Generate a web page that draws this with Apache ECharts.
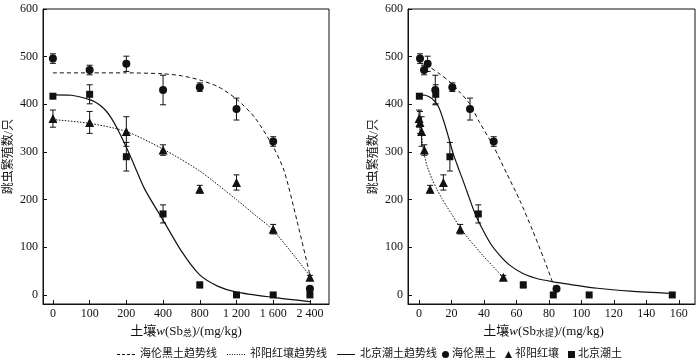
<!DOCTYPE html>
<html>
<head>
<meta charset="utf-8">
<script src="https://cdn.jsdelivr.net/npm/echarts@6/dist/echarts.min.js"></script>
<style>html,body{margin:0;padding:0;background:#fff}#c{width:700px;height:362px}</style>
</head>
<body>
<div id="c"></div>
<script>
// ---------- data ----------
const leftTickIdx = [0, 1, 2, 3, 4, 5, 6, 7];
const leftTickLabels = ['0', '100', '200', '400', '800', '1 200', '1 600', '2 400'];
const rightTicks = [0, 20, 40, 60, 80, 100, 120, 140, 160];
const yTicks = [0, 100, 200, 300, 400, 500, 600];

const heilunY = [496, 472, 485, 430, 436, 390, 322, 13];
const heilunErr = [10, 10, 16, 31, 9, 23, 10, 0];
const qiyangY = [370, 362, 343, 304, 222, 236, 138, 37];
const qiyangErr = [18, 23, 31, 11, 8, 16, 10, 4];
const beijingY = [417, 421, 290, 170, 21, 0, 0, 0];
const beijingErr = [0, 20, 30, 19, 6, 0, 0, 0];

// water-extractable Sb (right chart x)
const heilunWX = [0.6, 3.1, 5.3, 10, 20.5, 31.4, 46, 84.7];
const qiyangWX = [0, 0.6, 1.6, 3.3, 6.8, 15, 25.4, 51.9];
const beijingWX = [0.2, 10.3, 19, 36.5, 64.2, 82.7, 104.8, 156];

// trend lines, left chart (x = tick index)
const heilunTrendLX = [0, 1, 2, 3, 3.5, 4, 4.5, 5, 5.5, 6, 6.3, 6.65, 7];
const heilunTrendLY = [466, 466, 466, 464, 460, 451, 437, 411, 372, 311, 260, 155, 42];
const qiyangTrendLX = [0, 1, 2, 3, 4, 5, 5.55, 6, 7];
const qiyangTrendLY = [368, 360, 343, 306, 260, 200, 165, 136, 40];
const beijingTrendLX = [0, 0.5, 1, 1.15, 1.3, 1.45, 1.6, 1.8, 2, 2.2, 2.5, 3, 3.5, 4, 4.5, 5, 6, 7];
const beijingTrendLY = [420, 419, 410, 405, 397, 386, 370, 342, 310, 275, 222, 157, 92, 42, 18, 6, -5, -14];

// trend lines, right chart
const heilunTrendRX = [0, 7, 13, 19, 25, 31, 37, 46, 54, 62, 70, 77, 83];
const heilunTrendRY = [488, 477, 463, 447, 426, 402, 364, 311, 255, 199, 135, 75, 20];
const qiyangTrendRX = [0, 1, 2, 3, 5, 8, 11, 14, 17, 20, 25, 30, 35, 40, 45, 52];
const qiyangTrendRY = [372, 348, 322, 298, 270, 243, 222, 203, 186, 170, 143, 120, 100, 80, 62, 36];
const beijingTrendRX = [0, 4, 8, 12, 15, 18, 21, 24, 27, 31, 34, 38, 44, 50, 56, 64, 72, 82, 93, 110, 130, 156];
const beijingTrendRY = [420, 419, 412, 395, 367, 333, 297, 268, 241, 203, 175, 145, 108, 82, 62, 45, 35, 28, 22, 14, 8, 3];

const nameHL = '海伦黑土趋势线', nameQY = '祁阳红壤趋势线', nameBJ = '北京潮土趋势线';
const nameHLp = '海伦黑土', nameQYp = '祁阳红壤', nameBJp = '北京潮土';

// ---------- helpers ----------
const FONT = '"Liberation Serif", "Noto Sans CJK SC", serif';
const INK = '#111';
const zip = (xs, ys) => xs.map((x, i) => [x, ys[i]]);
const zip3 = (xs, ys, es) => xs.map((x, i) => [x, ys[i], es[i]]);

function errRender(params, api) {
  const x = api.value(0), y = api.value(1), e = api.value(2);
  if (!e) return null;
  const t = api.coord([x, y + e]), b = api.coord([x, y - e]);
  const w = 3;
  const st = { stroke: INK, lineWidth: 1 };
  return {
    type: 'group', children: [
      { type: 'line', shape: { x1: t[0], y1: t[1], x2: b[0], y2: b[1] }, style: st },
      { type: 'line', shape: { x1: t[0] - w, y1: t[1], x2: t[0] + w, y2: t[1] }, style: st },
      { type: 'line', shape: { x1: b[0] - w, y1: b[1], x2: b[0] + w, y2: b[1] }, style: st }
    ]
  };
}

function yAxisCfg(gi) {
  return {
    type: 'value', gridIndex: gi, min: -19, max: 600,
    name: '跳虫繁殖数/只', nameLocation: 'middle', nameGap: 28,
    nameTextStyle: { fontFamily: FONT, fontSize: 12, color: INK },
    axisLine: { show: true, onZero: false, lineStyle: { color: INK } },
    axisTick: { show: true, inside: true, length: 4, customValues: yTicks, lineStyle: { color: INK } },
    axisLabel: { customValues: yTicks, fontFamily: FONT, fontSize: 12, color: INK, margin: 5 },
    splitLine: { show: false }
  };
}

const xNameRich = {
  i: { fontFamily: FONT, fontSize: 13, fontStyle: 'italic', color: INK },
  s: { fontFamily: FONT, fontSize: 9, color: INK, verticalAlign: 'bottom', padding: [5, 0, 0, 0] }
};

function lineSeries(name, xi, yi, xs, ys, dash, w) {
  return {
    name, type: 'line', xAxisIndex: xi, yAxisIndex: yi, data: zip(xs, ys),
    symbol: 'none', showSymbol: false, smooth: 0.25, silent: true,
    lineStyle: { color: INK, width: w, type: dash, opacity: 1 },
    itemStyle: { color: INK }, z: 2
  };
}
function scatterSeries(name, xi, yi, xs, ys, sym, size) {
  return {
    name, type: 'scatter', xAxisIndex: xi, yAxisIndex: yi, data: zip(xs, ys),
    symbol: sym, symbolSize: size, itemStyle: { color: INK, opacity: 1 }, z: 4
  };
}
function errSeries(xi, yi, xs, ys, es) {
  return {
    type: 'custom', xAxisIndex: xi, yAxisIndex: yi, data: zip3(xs, ys, es),
    renderItem: errRender, encode: { x: 0, y: 1 }, silent: true, z: 3
  };
}

const ICON_DASH = 'path://M0 0h3v1h-3zM5 0h3v1h-3zM10 0h3v1h-3zM15 0h3v1h-3z';
const ICON_DOT = 'path://M0 0h1v1h-1zM2.4 0h1v1h-1zM4.8 0h1v1h-1zM7.2 0h1v1h-1zM9.6 0h1v1h-1zM12 0h1v1h-1zM14.4 0h1v1h-1zM16.8 0h1v1h-1z';
const ICON_SOLID = 'path://M0 0h18v1h-18z';

const chart = echarts.init(document.getElementById('c'), null, { renderer: 'canvas' });
chart.setOption({
  animation: false,
  backgroundColor: '#fff',
  textStyle: { fontFamily: FONT },
  grid: [
    { left: 43, right: 371, top: 9, bottom: 58, show: true, borderColor: INK, borderWidth: 1, backgroundColor: 'transparent' },
    { left: 408, right: 5, top: 9, bottom: 58, show: true, borderColor: INK, borderWidth: 1, backgroundColor: 'transparent' }
  ],
  xAxis: [
    {
      type: 'value', gridIndex: 0, min: -0.27, max: 7.52,
      name: '土壤{i|w}(Sb{s|总})/(mg/kg)', nameLocation: 'middle', nameGap: 20,
      nameTextStyle: { fontFamily: FONT, fontSize: 13, color: INK, rich: xNameRich },
      axisLine: { show: true, onZero: false, lineStyle: { color: INK } },
      axisTick: { show: true, inside: true, length: 4, customValues: leftTickIdx, lineStyle: { color: INK } },
      axisLabel: { customValues: leftTickIdx, fontFamily: FONT, fontSize: 12, color: INK, margin: 4,
        formatter: v => leftTickLabels[Math.round(v)] },
      splitLine: { show: false }
    },
    {
      type: 'value', gridIndex: 1, min: -6.8, max: 170,
      name: '土壤{i|w}(Sb{s|水提})/(mg/kg)', nameLocation: 'middle', nameGap: 20,
      nameTextStyle: { fontFamily: FONT, fontSize: 13, color: INK, rich: xNameRich, padding: [0, 16, 0, 0] },
      axisLine: { show: true, onZero: false, lineStyle: { color: INK } },
      axisTick: { show: true, inside: true, length: 4, customValues: rightTicks, lineStyle: { color: INK } },
      axisLabel: { customValues: rightTicks, fontFamily: FONT, fontSize: 12, color: INK, margin: 4 },
      splitLine: { show: false }
    }
  ],
  yAxis: [yAxisCfg(0), yAxisCfg(1)],
  legend: [
    {
      left: 112, top: 344, itemWidth: 18, itemHeight: 10, itemGap: 10,
      textStyle: { fontFamily: FONT, fontSize: 11, color: INK },
      selectedMode: false,
      data: [
        { name: nameHL, icon: ICON_DASH },
        { name: nameQY, icon: ICON_DOT },
        { name: nameBJ, icon: ICON_SOLID }
      ]
    },
    {
      left: 437, top: 344, itemWidth: 7, itemHeight: 7, itemGap: 9,
      textStyle: { fontFamily: FONT, fontSize: 11, color: INK, padding: [0, 0, 0, -2] },
      selectedMode: false,
      data: [
        { name: nameHLp, icon: 'circle' },
        { name: nameQYp, icon: 'triangle' },
        { name: nameBJp, icon: 'rect' }
      ]
    }
  ],
  series: [
    lineSeries(nameHL, 0, 0, heilunTrendLX, heilunTrendLY, [4, 3], 1),
    lineSeries(nameQY, 0, 0, qiyangTrendLX, qiyangTrendLY, [1.5, 1.5], 1),
    lineSeries(nameBJ, 0, 0, beijingTrendLX, beijingTrendLY, 'solid', 1.2),
    lineSeries(nameHL, 1, 1, heilunTrendRX, heilunTrendRY, [4, 3], 1),
    lineSeries(nameQY, 1, 1, qiyangTrendRX, qiyangTrendRY, [1.5, 1.5], 1),
    lineSeries(nameBJ, 1, 1, beijingTrendRX, beijingTrendRY, 'solid', 1.2),

    errSeries(0, 0, leftTickIdx, heilunY, heilunErr),
    errSeries(0, 0, leftTickIdx, qiyangY, qiyangErr),
    errSeries(0, 0, leftTickIdx, beijingY, beijingErr),
    errSeries(1, 1, heilunWX, heilunY, heilunErr),
    errSeries(1, 1, qiyangWX, qiyangY, qiyangErr),
    errSeries(1, 1, beijingWX, beijingY, beijingErr),

    scatterSeries(nameHLp, 0, 0, leftTickIdx, heilunY, 'circle', 8),
    scatterSeries(nameQYp, 0, 0, leftTickIdx, qiyangY, 'triangle', 9),
    scatterSeries(nameBJp, 0, 0, leftTickIdx, beijingY, 'rect', 7),
    scatterSeries(nameHLp, 1, 1, heilunWX, heilunY, 'circle', 8),
    scatterSeries(nameQYp, 1, 1, qiyangWX, qiyangY, 'triangle', 9),
    scatterSeries(nameBJp, 1, 1, beijingWX, beijingY, 'rect', 7)
  ]
});
</script>
</body>
</html>
